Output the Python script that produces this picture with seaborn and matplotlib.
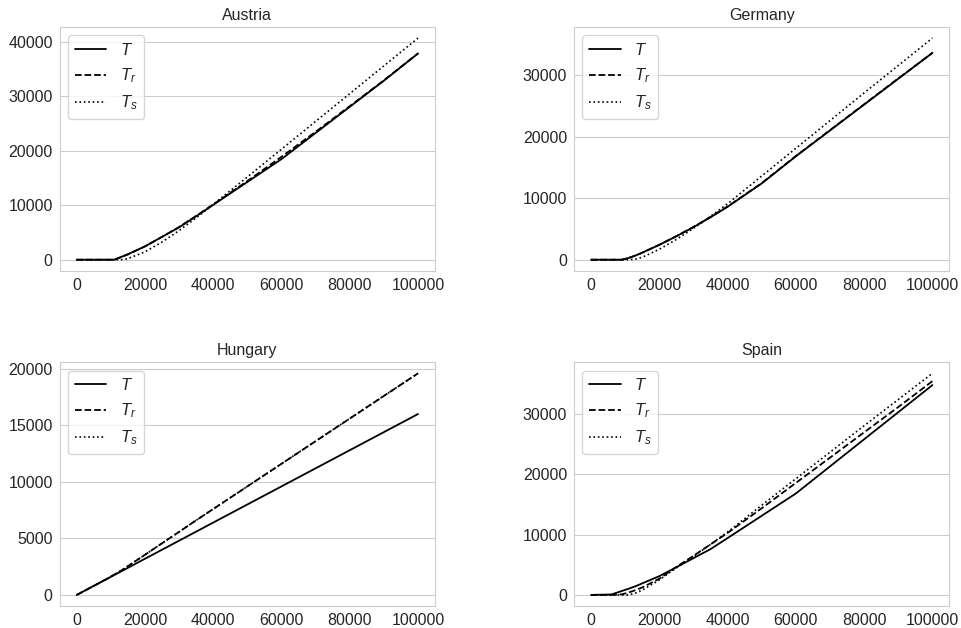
import numpy as np
import pandas as pd
import matplotlib
matplotlib.use("Agg")
import matplotlib.pyplot as plt
from matplotlib.ticker import MaxNLocator
import seaborn as sns

income = [0, 6000, 9000, 11000, 13000, 15000, 20000, 25000, 30000, 35000,
          40000, 50000, 60000, 70000, 80000, 90000, 100000]

countries = ["Austria", "Germany", "Hungary", "Spain"]

# Austria
at_T = [0, 0, 0, 0, 500, 1000, 2450, 4200, 5950, 7980, 10080, 14280, 18480, 23280, 28080, 32880, 37880]
at_Tr = [0, 0, 0, 0, 480, 980, 2450, 4200, 6000, 8050, 10150, 14450, 18900, 23500, 28200, 32950, 37900]
at_Ts = [0, 0, 0, 0, 0, 200, 1450, 3250, 5350, 7700, 10150, 15200, 20300, 25400, 30500, 35600, 40700]

# Germany
de_T = [0, 0, 0, 290, 680, 1150, 2420, 3810, 5290, 6900, 8600, 12400, 16800, 21000, 25200, 29400, 33600]
de_Tr = [0, 0, 0, 280, 670, 1140, 2430, 3840, 5330, 6950, 8650, 12450, 16850, 21050, 25250, 29450, 33600]
de_Ts = [0, 0, 0, 0, 100, 400, 1700, 3300, 5100, 7050, 9100, 13600, 18100, 22600, 27100, 31550, 36000]

# Hungary
hu_T = [0, 960, 1440, 1760, 2080, 2400, 3200, 4000, 4800, 5600, 6400, 8000, 9600, 11200, 12800, 14400, 16000]
hu_Tr = [0, 960, 1450, 1800, 2150, 2550, 3550, 4570, 5580, 6600, 7600, 9600, 11600, 13600, 15600, 17600, 19600]
hu_Ts = [0, 960, 1450, 1800, 2150, 2550, 3550, 4570, 5580, 6600, 7600, 9600, 11600, 13600, 15600, 17600, 19600]

# Spain
es_T = [0, 85, 655, 1035, 1443, 1923, 3123, 4611, 6111, 7611, 9447, 13147, 16847, 21347, 25847, 30347, 34847]
es_Tr = [0, 0, 100, 400, 800, 1250, 2700, 4650, 6500, 8400, 10300, 14400, 18600, 22800, 27000, 31200, 35500]
es_Ts = [0, 0, 0, 0, 300, 800, 2500, 4500, 6400, 8400, 10450, 14900, 19300, 23700, 28100, 32450, 36800]

series = {
    "Austria": (at_T, at_Tr, at_Ts),
    "Germany": (de_T, de_Tr, de_Ts),
    "Hungary": (hu_T, hu_Tr, hu_Ts),
    "Spain": (es_T, es_Tr, es_Ts),
}

sns.set_style("whitegrid")
plt.rcParams["font.family"] = ["Liberation Sans", "DejaVu Sans"]
plt.rcParams["mathtext.fontset"] = "custom"
plt.rcParams["mathtext.it"] = "Liberation Sans:italic"
plt.rcParams["mathtext.rm"] = "Liberation Sans"

fig, axes = plt.subplots(2, 2, figsize=(9.62, 6.28), dpi=100)
fig.subplots_adjust(left=0.062, right=0.987, top=0.957, bottom=0.035,
                    wspace=0.37, hspace=0.375)

for ax, name in zip(axes.flat, countries):
    T, Tr, Ts = series[name]
    df = pd.DataFrame({"income": income, "T": T, "Tr": Tr, "Ts": Ts})
    sns.lineplot(data=df, x="income", y="T", ax=ax, color="k", lw=1.3, label="$T$")
    sns.lineplot(data=df, x="income", y="Tr", ax=ax, color="k", lw=1.3,
                 linestyle="--", label="$T_r$")
    sns.lineplot(data=df, x="income", y="Ts", ax=ax, color="k", lw=1.2,
                 linestyle=":", label="$T_s$")
    ax.set_title(name, fontsize=11.5, color=".15", pad=5)
    ax.set_xlabel("")
    ax.set_ylabel("")
    ax.grid(axis="x", visible=False)
    ax.set_xticks([0, 20000, 40000, 60000, 80000, 100000])
    ax.yaxis.set_major_locator(MaxNLocator(nbins=5, steps=[1, 2, 5, 10]))
    ax.tick_params(labelsize=11.5, colors=".15", pad=1.5)
    ax.legend(loc="upper left", fontsize=12, frameon=True, handlelength=1.9)

plt.savefig("out.png", dpi=100)
